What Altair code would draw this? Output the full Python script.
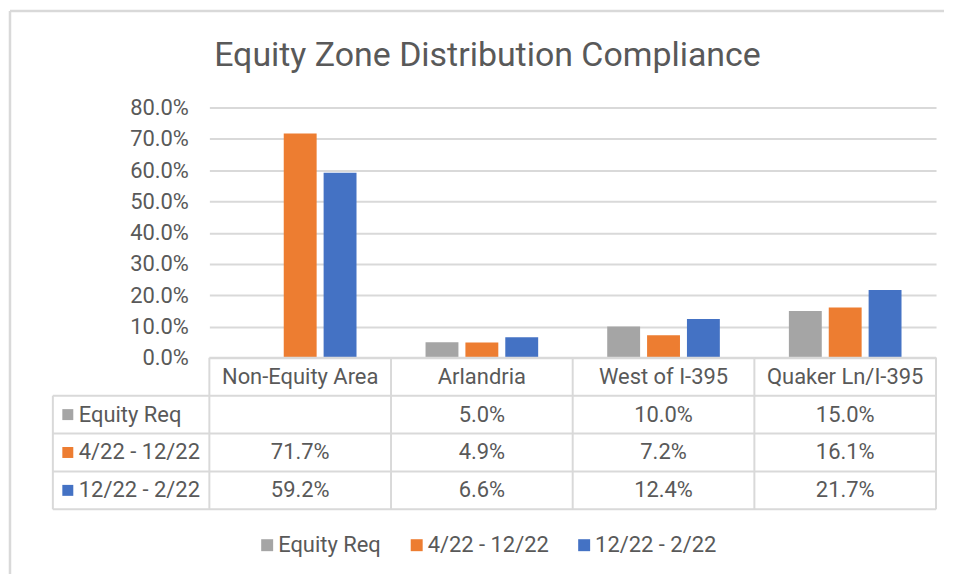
import altair as alt
import pandas as pd

categories = ["Non-Equity Area", "Arlandria", "West of I-395", "Quaker Ln/I-395"]
series = ["Equity Req", "4/22 - 12/22", "12/22 - 2/22"]
equity_req = [None, 0.050, 0.100, 0.150]
period_1 = [0.717, 0.049, 0.072, 0.161]
period_2 = [0.592, 0.066, 0.124, 0.217]
y_ticks = [0.0, 0.1, 0.2, 0.3, 0.4, 0.5, 0.6, 0.7, 0.8]
colors = ["#A5A5A5", "#ED7D31", "#4472C4"]
title_text = "Equity Zone Distribution Compliance"

rows = []
for s, vals in zip(series, [equity_req, period_1, period_2]):
    for c, v in zip(categories, vals):
        if v is not None:
            rows.append({"series": s, "category": c, "value": v})
df = pd.DataFrame(rows)
cat_df = pd.DataFrame({"category": categories})
ser_df = pd.DataFrame({"series": series})
one = pd.DataFrame({"k": [0]})
title_df = pd.DataFrame({"t": [title_text]})

W, H_BAR, H_TAB = 729, 251, 152
FONT = "Roboto"
TXT = "#595959"
LINE = "#D9D9D9"
FS = 22

color = alt.Color(
    "series:N",
    sort=series,
    scale=alt.Scale(domain=series, range=colors),
    legend=alt.Legend(
        title=None, orient="none", direction="horizontal",
        legendX=47, legendY=428,
        symbolType="square", symbolSize=144, symbolStrokeWidth=0,
        labelFontSize=FS, labelFont=FONT, labelColor=TXT,
        labelOffset=0, columnPadding=24,
    ),
)

# ---------- bar panel ----------
bars = alt.Chart(df).mark_bar().encode(
    x=alt.X("category:N", sort=categories,
            scale=alt.Scale(domain=categories, paddingInner=0.38, paddingOuter=0.19),
            axis=None),
    xOffset=alt.XOffset("series:N", sort=series,
                        scale=alt.Scale(domain=series, paddingInner=0.175, paddingOuter=0)),
    y=alt.Y("value:Q", scale=alt.Scale(domain=[0, 0.8], nice=False),
            axis=alt.Axis(values=y_ticks, format=".1%", title=None, ticks=False,
                          domain=False, labelPadding=21, labelFontSize=FS,
                          labelFont=FONT, labelColor=TXT, gridColor=LINE, gridWidth=2)),
    color=color,
)

title_mark = alt.Chart(title_df).mark_text(
    font=FONT, fontSize=34, color=TXT, align="center", baseline="alphabetic"
).encode(text="t:N", x=alt.value(279), y=alt.value(-42))

border_left = alt.Chart(one).mark_rule(color=LINE, strokeWidth=2.5).encode(
    x=alt.value(-200), y=alt.value(-97), y2=alt.value(468))
border_top = alt.Chart(one).mark_rule(color=LINE, strokeWidth=2.5).encode(
    x=alt.value(-200), x2=alt.value(737), y=alt.value(-97))

bar_panel = alt.layer(border_left, border_top, title_mark, bars).properties(
    width=W, height=H_BAR)

# ---------- data table panel ----------
X_cat = alt.X("category:N", sort=categories,
              scale=alt.Scale(domain=categories, paddingInner=0, paddingOuter=0),
              axis=None)
Y_ser = alt.Y("series:N", sort=series,
              scale=alt.Scale(domain=series, range=[38, 152], paddingInner=0, paddingOuter=0),
              axis=None)

rule_style = dict(color=LINE, strokeWidth=2)

header = alt.Chart(cat_df).mark_text(
    font=FONT, fontSize=FS, color=TXT, align="center", baseline="middle"
).encode(x=X_cat, y=alt.value(19), text="category:N")

values = alt.Chart(df).mark_text(
    font=FONT, fontSize=FS, color=TXT, align="center", baseline="middle"
).encode(x=X_cat, y=Y_ser, text=alt.Text("value:Q", format=".1%"))

row_sw = alt.Chart(ser_df).mark_square(size=121, opacity=1).encode(
    x=alt.value(-142), y=Y_ser, color=color)
row_lbl = alt.Chart(ser_df).mark_text(
    font=FONT, fontSize=FS, color=TXT, align="left", baseline="middle"
).encode(x=alt.value(-131), y=Y_ser, text="series:N")

h_rows = alt.Chart(ser_df).mark_rule(**rule_style).encode(
    y=alt.Y("series:N", sort=series,
            scale=alt.Scale(domain=series, range=[38, 152], paddingInner=0, paddingOuter=0),
            axis=None, bandPosition=0),
    x=alt.value(-157), x2=alt.value(W))
h_bottom = alt.Chart(one).mark_rule(**rule_style).encode(
    y=alt.value(H_TAB), x=alt.value(-157), x2=alt.value(W))
h_top = alt.Chart(one).mark_rule(**rule_style).encode(
    y=alt.value(0), x=alt.value(0), x2=alt.value(W))
v_left = alt.Chart(one).mark_rule(**rule_style).encode(
    x=alt.value(-157), y=alt.value(38), y2=alt.value(H_TAB))
v_cats = alt.Chart(cat_df).mark_rule(**rule_style).encode(
    x=alt.X("category:N", sort=categories,
            scale=alt.Scale(domain=categories, paddingInner=0, paddingOuter=0),
            axis=None, bandPosition=0),
    y=alt.value(0), y2=alt.value(H_TAB))
v_right = alt.Chart(one).mark_rule(**rule_style).encode(
    x=alt.value(W), y=alt.value(0), y2=alt.value(H_TAB))

table_panel = alt.layer(
    h_rows, h_bottom, h_top, v_left, v_cats, v_right,
    header, values, row_sw, row_lbl
).properties(width=W, height=H_TAB)

chart = alt.vconcat(bar_panel, table_panel, spacing=0, bounds="flush").resolve_scale(
    color="shared", x="independent", y="independent"
).properties(padding=0, background="white").configure_view(stroke=None)

chart.save("out.html", embed_options={"renderer": "svg", "actions": False})
